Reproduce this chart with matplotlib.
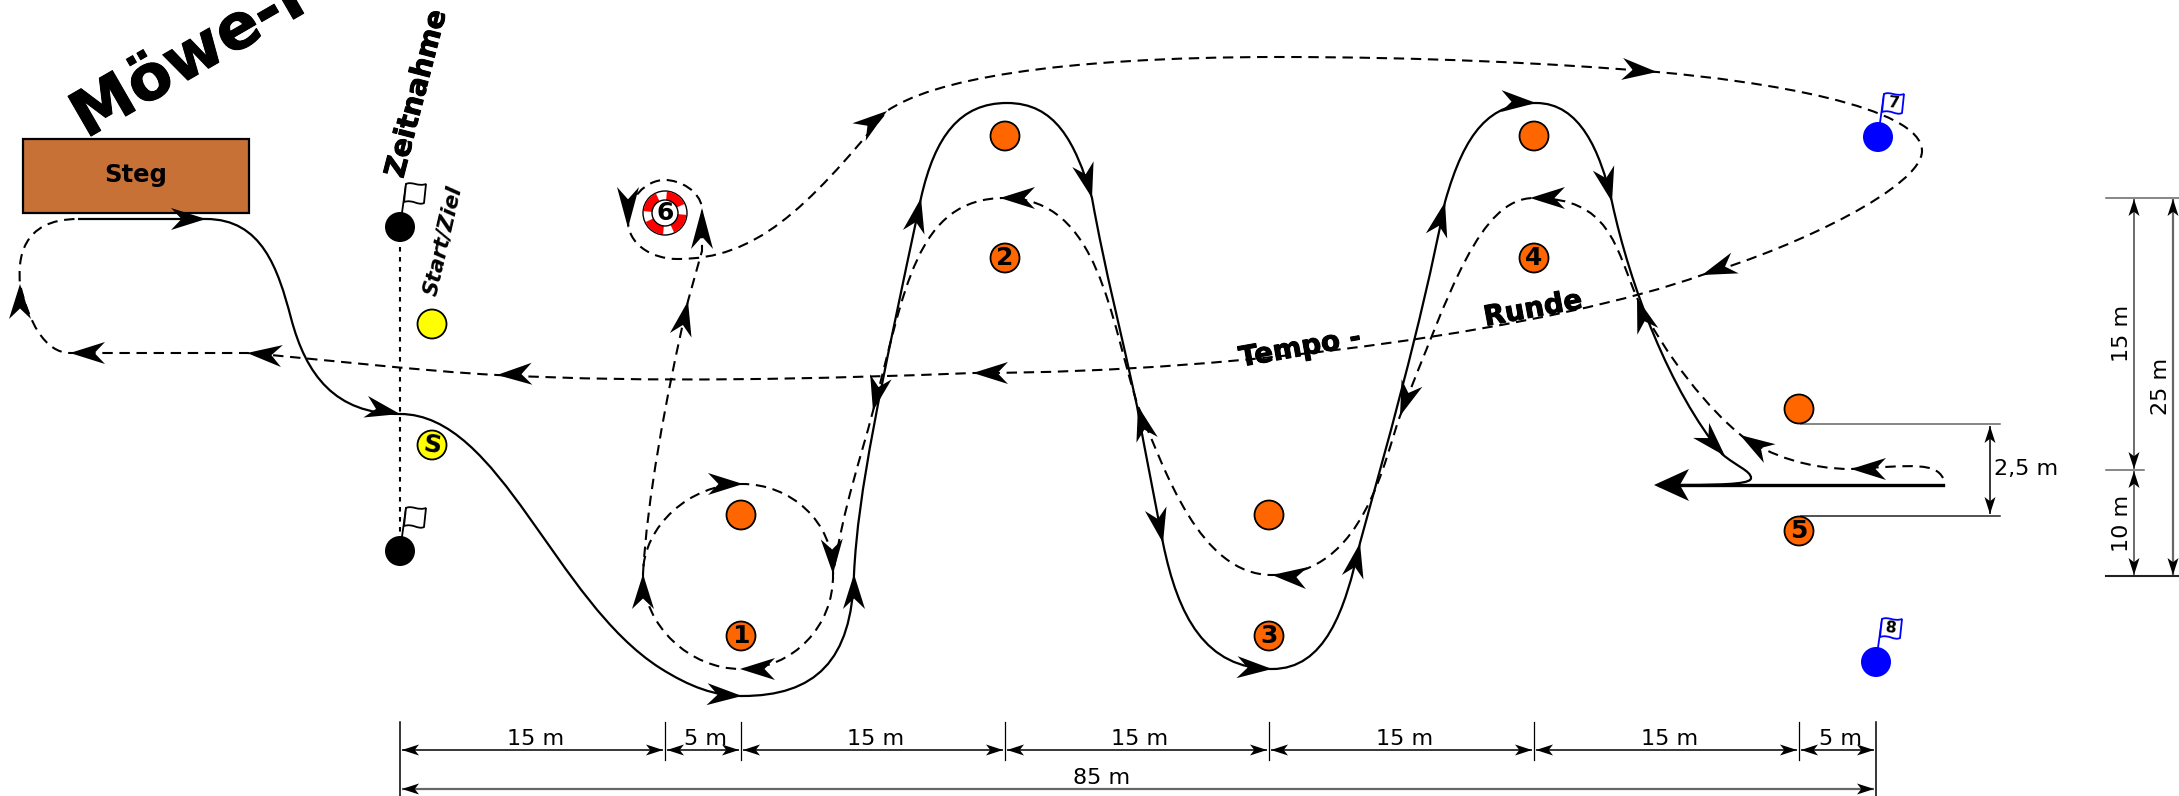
import math
import matplotlib
matplotlib.use("Agg")
import matplotlib.pyplot as plt
import matplotlib.patheffects as pe
from matplotlib.path import Path
from matplotlib.patches import PathPatch, Circle, Polygon, Rectangle, Wedge

# everything is in image pixels, y goes down
W, H = 2179, 796

# buoys: x, y, label
orange_buoys = [(741, 514, ""), (741, 635, "1"), (1005, 135, ""), (1005, 257, "2"),
                (1269, 514, ""), (1269, 635, "3"), (1534, 135, ""), (1534, 257, "4"),
                (1799, 408, ""), (1799, 530, "5")]
yellow_buoys = [(432, 323, ""), (432, 444, "S")]
black_buoys = [(400, 226), (400, 550)]
blue_buoys = [(1878, 136, "7"), (1876, 661, "8")]
lifebuoy = (665, 212, "6")

# course lines, a tuple of 1 point is a straight piece, of 3 points a bezier piece
solid_start = (78, 218)
solid_route = [((206, 218),),
               ((262, 218), (278, 268), (291, 317)),
               ((306, 374), (335, 413), (400, 413)),
               ((500, 413), (555, 600), (660, 667)),
               ((690, 686), (715, 695), (742, 695)),
               ((815, 695), (852, 660), (854, 573)),
               ((858, 490), (880, 390), (921, 197)),
               ((935, 135), (960, 102), (1007, 102)),
               ((1055, 102), (1075, 140), (1092, 197)),
               ((1105, 270), (1122, 335), (1137, 405)),
               ((1145, 450), (1155, 500), (1163, 542)),
               ((1178, 615), (1205, 668), (1272, 668)),
               ((1325, 668), (1345, 610), (1360, 542)),
               ((1385, 450), (1420, 330), (1445, 201)),
               ((1465, 130), (1490, 102), (1536, 102)),
               ((1580, 102), (1600, 150), (1612, 201)),
               ((1630, 285), (1670, 390), (1722, 453)),
               ((1736, 465), (1751, 470), (1751, 477)),
               ((1751, 482), (1735, 484), (1680, 484))]
finish_line = [(1943, 484), (1660, 484)]

dashed_start = (1943, 477)
dashed_route = [((1935, 462), (1915, 464), (1851, 468)),
                ((1810, 468), (1770, 455), (1742, 435)),
                ((1710, 410), (1665, 355), (1637, 297)),
                ((1615, 245), (1610, 197), (1534, 197)),
                ((1480, 197), (1450, 290), (1400, 415)),
                ((1385, 455), (1365, 574), (1272, 574)),
                ((1200, 574), (1165, 470), (1138, 405)),
                ((1110, 320), (1100, 197), (1005, 197)),
                ((915, 197), (905, 290), (873, 410)),
                ((860, 460), (845, 500), (833, 573)),
                ((834, 625), (793, 668), (741, 668)),
                ((690, 668), (643, 625), (643, 573)),
                ((643, 525), (690, 483), (742, 483)),
                ((790, 483), (834, 520), (833, 573))]

tempo_start = (643, 573)
tempo_route = [((647, 500), (665, 400), (688, 300)),
               ((700, 257),),
               ((702, 250),),
               ((702, 207),),
               ((700, 190), (680, 179), (665, 179)),
               ((645, 179), (628, 198), (628, 220)),
               ((628, 242), (650, 258), (678, 258)),
               ((755, 258), (805, 210), (887, 110)),
               ((930, 80), (1050, 56), (1279, 56)),
               ((1420, 56), (1550, 62), (1657, 71)),
               ((1760, 80), (1922, 105), (1922, 150)),
               ((1922, 185), (1800, 245), (1702, 274)),
               ((1560, 325), (1250, 372), (973, 372)),
               ((820, 378), (650, 382), (497, 374)),
               ((420, 370), (320, 358), (247, 352)),
               ((70, 352),),
               ((45, 352), (28, 320), (20, 283)),
               ((18, 260), (20, 218), (78, 218))]

# arrow heads on the course: x, y, direction in degrees (0 right, 90 down)
solid_arrows = [(206, 218, 0), (400, 413, 12), (742, 695, 3), (854, 573, -90),
                (921, 197, -78), (1092, 197, 75), (1163, 542, 78), (1272, 668, 3),
                (1360, 542, -78), (1445, 201, -76), (1536, 102, 3), (1612, 201, 76),
                (1725, 455, 47)]
dashed_arrows = [(1851, 468, 180), (1740, 434, -148), (1637, 297, -108), (1530, 197, 180),
                 (1400, 415, 110), (1272, 574, -175), (1138, 405, -105), (1000, 197, 180),
                 (873, 410, 103), (833, 573, 88), (740, 668, 180), (643, 573, -90),
                 (743, 483, 0), (688, 300, -78), (887, 110, -37), (1657, 71, 5),
                 (1702, 274, 160), (973, 372, 180), (497, 374, 178), (247, 352, -175),
                 (70, 352, 180), (20, 283, -90)]
long_arrows = [(702, 207, -90), (628, 227, 90)]

# bottom dimensions
dim_x = [400, 665, 741, 1005, 1269, 1534, 1799, 1876]
dim_labels = ["15 m", "5 m", "15 m", "15 m", "15 m", "15 m", "5 m"]
total_label = "85 m"

# right hand dimensions
right_y = [197, 469, 575]
gap_y = [423, 515]

heavy = [pe.withStroke(linewidth=0.7, foreground="black")]


def make_path(start, route):
    verts = [start]
    codes = [Path.MOVETO]
    for piece in route:
        for p in piece:
            verts.append(p)
        if len(piece) == 1:
            codes.append(Path.LINETO)
        else:
            codes += [Path.CURVE4] * 3
    return Path(verts, codes)


def arrow(ax, x, y, ang, length=35, half=11, notch=0.7, z=5):
    a = math.radians(ang)
    dx, dy = math.cos(a), math.sin(a)
    pts = [(x, y),
           (x - length * dx - half * dy, y - length * dy + half * dx),
           (x - length * notch * dx, y - length * notch * dy),
           (x - length * dx + half * dy, y - length * dy - half * dx)]
    ax.add_patch(Polygon(pts, closed=True, fc="black", ec="none", zorder=z))


def dim_line(ax, x0, y0, x1, y1, color="black", lw=1.1):
    ax.plot([x0, x1], [y0, y1], color=color, lw=lw, solid_capstyle="butt", zorder=2)
    ang = math.degrees(math.atan2(y1 - y0, x1 - x0))
    arrow(ax, x1, y1, ang, 17, 5.5, 0.75)
    arrow(ax, x0, y0, ang + 180, 17, 5.5, 0.75)


def flag(ax, x, y, color, num=""):
    # pole from the buoy up to the flag, little waving flag on it
    fx, fy = x + 6, y - 43
    ax.plot([x, fx], [y, fy], color=color, lw=1.3, zorder=3)
    verts = [(fx, fy), (fx + 6, fy - 3), (fx + 12, fy + 3), (fx + 20, fy),
             (fx + 18, fy + 19),
             (fx + 12, fy + 22), (fx + 7, fy + 15), (fx - 2, fy + 18), (fx, fy)]
    codes = [Path.MOVETO, Path.CURVE4, Path.CURVE4, Path.CURVE4,
             Path.LINETO, Path.CURVE4, Path.CURVE4, Path.CURVE4, Path.LINETO]
    ax.add_patch(PathPatch(Path(verts, codes), fc="white", ec=color, lw=1.3, zorder=3))
    if num:
        ax.text(fx + 9.5, fy + 9.5, num, fontsize=11.5, fontweight="bold", ha="center",
                va="center", rotation=-6, zorder=4)


fig = plt.figure(figsize=(W / 100, H / 100), dpi=100)
ax = fig.add_axes([0, 0, 1, 1])
ax.set_xlim(0, W)
ax.set_ylim(H - 1, -1)
ax.axis("off")

# title and the jetty
ax.text(86, 138, "Möwe-Parcours", fontsize=45.5, fontweight="bold", rotation=30,
        rotation_mode="anchor", ha="left", va="baseline", path_effects=heavy)
ax.add_patch(Rectangle((23, 138), 226, 74, fc="#C87137", ec="black", lw=1.6, zorder=2))
ax.text(136, 174, "Steg", fontsize=17.5, fontweight="bold", ha="center", va="center", zorder=3)

# start line
ax.plot([400, 400], [226, 550], color="black", lw=1.5, dashes=(2.2, 2.6), zorder=1)
ax.text(403, 178, "Zeitnahme", fontsize=20.5, fontweight="bold", rotation=75.5,
        rotation_mode="anchor", ha="left", va="baseline", path_effects=heavy)
ax.text(436, 296, "Start/Ziel", fontsize=15.2, fontweight="bold", style="oblique",
        rotation=77, rotation_mode="anchor", ha="left", va="baseline")

# course
ax.add_patch(PathPatch(make_path(solid_start, solid_route), fc="none", ec="black", lw=1.6, zorder=3))
ax.plot([finish_line[0][0], finish_line[1][0]], [finish_line[0][1], finish_line[1][1]],
        color="black", lw=2.4, zorder=3)
ax.add_patch(PathPatch(make_path(dashed_start, dashed_route), fc="none", ec="black", lw=1.5,
                       linestyle=(0, (5, 3.2)), zorder=3))
ax.add_patch(PathPatch(make_path(tempo_start, tempo_route), fc="none", ec="black", lw=1.5,
                       linestyle=(0, (5, 3.2)), zorder=3))
for a in solid_arrows + dashed_arrows:
    arrow(ax, a[0], a[1], a[2])
for a in long_arrows:
    arrow(ax, a[0], a[1], a[2], 41, 11)
arrow(ax, 1654, 484, 180, 35, 16, 0.74)

ax.text(1300, 347, "Tempo -", fontsize=20, fontweight="bold", rotation=10,
        rotation_mode="anchor", ha="center", va="center", path_effects=heavy)
ax.text(1533, 308, "Runde", fontsize=20, fontweight="bold", rotation=10.5,
        rotation_mode="anchor", ha="center", va="center", path_effects=heavy)

# buoys
for x, y, lab in orange_buoys:
    ax.add_patch(Circle((x, y), 14.5, fc="#FF6600", ec="black", lw=1.3, zorder=4))
    if lab:
        ax.text(x, y, lab, fontsize=18, fontweight="bold", ha="center", va="center", zorder=5)
for x, y, lab in yellow_buoys:
    ax.add_patch(Circle((x, y), 14.5, fc="#FFFF00", ec="black", lw=1.3, zorder=4))
    if lab:
        ax.text(x, y, lab, fontsize=18, fontweight="bold", ha="center", va="center",
                rotation=-8, zorder=5)
for x, y in black_buoys:
    flag(ax, x, y, "black")
    ax.add_patch(Circle((x, y), 15, fc="black", ec="none", zorder=4))
for x, y, lab in blue_buoys:
    flag(ax, x, y, "#0000FF", lab)
    ax.add_patch(Circle((x, y), 15, fc="#0000FF", ec="none", zorder=4))

# life ring for buoy 6
lx, ly, lnum = lifebuoy
ax.add_patch(Circle((lx, ly), 22, fc="white", ec="black", lw=1.0, zorder=4))
for a0 in [10, 100, 190, 280]:
    # y axis is flipped, so angles run clockwise on screen
    ax.add_patch(Wedge((lx, ly), 21.5, -a0 + 15 - 90, -a0 - 15, width=8.5, fc="#FF0000", ec="none", zorder=5))
ax.add_patch(Circle((lx, ly), 13, fc="white", ec="black", lw=1.0, zorder=6))
ax.text(lx, ly, lnum, fontsize=18, fontweight="bold", ha="center", va="center", zorder=7)

# bottom dimensions
for i, x in enumerate(dim_x):
    if i == 0 or i == len(dim_x) - 1:
        ax.plot([x, x], [721, 796], color="black", lw=1.1, zorder=2)
    else:
        ax.plot([x, x], [721, 759], color="black", lw=0.9, zorder=2)
for i, lab in enumerate(dim_labels):
    x0, x1 = dim_x[i], dim_x[i + 1]
    dim_line(ax, x0 + 2, 749, x1 - 2, 749)
    ax.text((x0 + x1) / 2 + 3, 738, lab, fontsize=16, ha="center", va="center", zorder=6)
dim_line(ax, dim_x[0] + 2, 788, dim_x[-1] - 2, 788, color="#666666", lw=1.6)
ax.text(1102, 777, total_label, fontsize=16, ha="center", va="center", zorder=6)

# right dimensions
ax.plot([2106, W], [right_y[0], right_y[0]], color="#666666", lw=1.1)
ax.plot([2106, 2144], [right_y[1], right_y[1]], color="#666666", lw=1.1)
ax.plot([2106, W], [right_y[2], right_y[2]], color="#222222", lw=1.5)
dim_line(ax, 2134, right_y[0] + 1, 2134, right_y[1] - 1, color="#444444")
dim_line(ax, 2134, right_y[1] + 1, 2134, right_y[2] - 1, color="#444444")
dim_line(ax, 2173, right_y[0] + 1, 2173, right_y[2] - 1, color="#666666", lw=1.6)
ax.text(2122, 332, "15 m", fontsize=16, rotation=90, ha="center", va="center")
ax.text(2122, 522, "10 m", fontsize=16, rotation=90, ha="center", va="center")
ax.text(2161, 385, "25 m", fontsize=16, rotation=90, ha="center", va="center")

# the 2,5 m gate
ax.plot([1801, 2000], [gap_y[0], gap_y[0]], color="#666666", lw=1.1)
ax.plot([1801, 2000], [gap_y[1], gap_y[1]], color="#222222", lw=1.1)
dim_line(ax, 1990, gap_y[0] + 2, 1990, gap_y[1] - 2)
ax.text(2026, 468, "2,5 m", fontsize=16, ha="center", va="center")

fig.savefig("out.png", dpi=100)
